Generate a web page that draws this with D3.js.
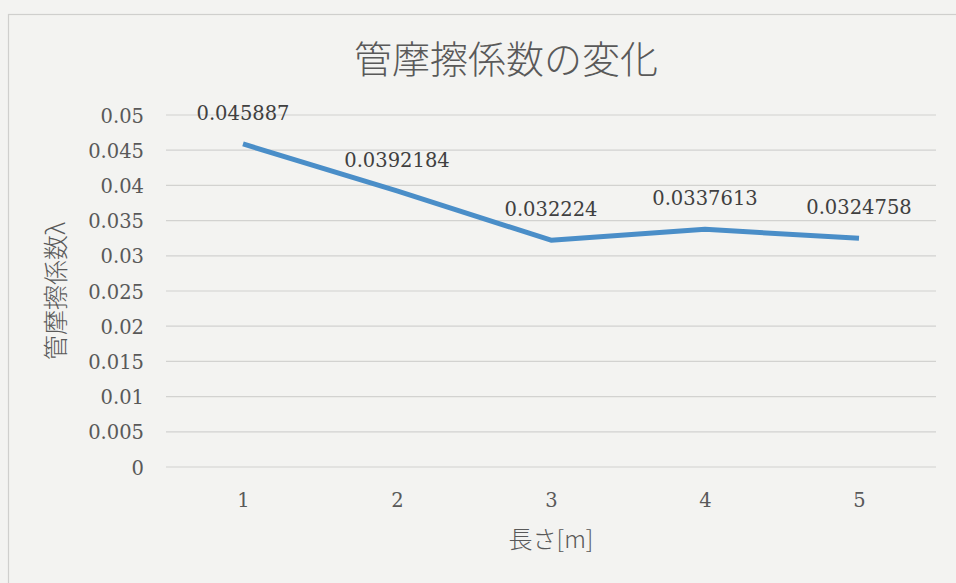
<!DOCTYPE html>
<html>
<head>
<meta charset="utf-8">
<script src="https://cdn.jsdelivr.net/npm/d3@7"></script>
<style>
  html, body { margin: 0; padding: 0; background: #f3f3f1; }
  svg { display: block; }
</style>
</head>
<body>
<svg id="chart" width="956" height="583"></svg>
<script>
// Pipe friction factor by pipe length
const categories = ["1", "2", "3", "4", "5"];
const values = [0.045887, 0.0392184, 0.032224, 0.0337613, 0.0324758];
const valueLabels = ["0.045887", "0.0392184", "0.032224", "0.0337613", "0.0324758"];
const yTicks = [0, 0.005, 0.01, 0.015, 0.02, 0.025, 0.03, 0.035, 0.04, 0.045, 0.05];
const yTickLabels = ["0", "0.005", "0.01", "0.015", "0.02", "0.025", "0.03", "0.035", "0.04", "0.045", "0.05"];
const title = "管摩擦係数の変化";
const xTitle = "長さ[m]";
const yTitle = "管摩擦係数λ";

const svg = d3.select("#chart");
const W = 956, H = 583;
const plot = { left: 166, right: 936, top: 115, bottom: 467 };
const serif = "'DejaVu Serif', 'Liberation Serif', serif";
const jp = "'Noto Sans CJK JP', 'Noto Sans', sans-serif";

svg.append("rect").attr("width", W).attr("height", H).attr("fill", "#f3f3f1");
// chart area frame
svg.append("rect")
  .attr("x", 8.5).attr("y", 14.5).attr("width", 970).attr("height", 600)
  .attr("fill", "none").attr("stroke", "#cfcfcd").attr("stroke-width", 1.2);

const x = d3.scalePoint().domain(categories).range([plot.left, plot.right]).padding(0.5);
const y = d3.scaleLinear().domain([0, 0.05]).range([plot.bottom, plot.top]);

// horizontal gridlines
svg.append("g").selectAll("line").data(yTicks).join("line")
  .attr("x1", plot.left).attr("x2", plot.right)
  .attr("y1", d => y(d)).attr("y2", d => y(d))
  .attr("stroke", "#d2d2d0").attr("stroke-width", 1.2);

// y axis labels
const yAxis = d3.axisLeft(y).tickValues(yTicks)
  .tickFormat((d, i) => yTickLabels[i]).tickSize(0).tickPadding(0);
const gy = svg.append("g").attr("transform", `translate(${plot.left - 22},0)`).call(yAxis);
gy.select(".domain").remove();
gy.selectAll("text").attr("font-family", serif).attr("font-size", 19.5).attr("fill", "#595959").attr("dy", "0.36em");

// x axis labels
const xAxis = d3.axisBottom(x).tickSize(0).tickPadding(0);
const gx = svg.append("g").attr("transform", `translate(0,${plot.bottom + 26})`).call(xAxis);
gx.select(".domain").remove();
gx.selectAll("text").attr("font-family", serif).attr("font-size", 19.5).attr("fill", "#595959").attr("dy", "0.71em");

// series line
const line = d3.line().x((d, i) => x(categories[i])).y(d => y(d));
svg.append("path").datum(values)
  .attr("d", line).attr("fill", "none")
  .attr("stroke", "#4a8ec8").attr("stroke-width", 5)
  .attr("stroke-linejoin", "round").attr("stroke-linecap", "butt");

// data labels
svg.append("g").selectAll("text").data(values).join("text")
  .attr("x", (d, i) => x(categories[i]))
  .attr("y", d => y(d) - 31)
  .attr("dy", "0.36em")
  .attr("text-anchor", "middle")
  .attr("font-family", serif).attr("font-size", 19.5).attr("fill", "#404040")
  .text((d, i) => valueLabels[i]);

// titles
svg.append("text").attr("x", 506).attr("y", 60).attr("dy", "0.35em")
  .attr("text-anchor", "middle").attr("font-family", jp).attr("font-size", 38)
  .attr("font-weight", 300).attr("fill", "#595959").text(title);

svg.append("text").attr("x", (plot.left + plot.right) / 2).attr("y", 540).attr("dy", "0.35em")
  .attr("text-anchor", "middle").attr("font-family", jp).attr("font-size", 24)
  .attr("font-weight", 300).attr("fill", "#595959").text(xTitle);

svg.append("text").attr("transform", "translate(56,291) rotate(-90)").attr("dy", "0.35em")
  .attr("text-anchor", "middle").attr("font-family", jp).attr("font-size", 25)
  .attr("font-weight", 300).attr("fill", "#595959").text(yTitle);
</script>
</body>
</html>
